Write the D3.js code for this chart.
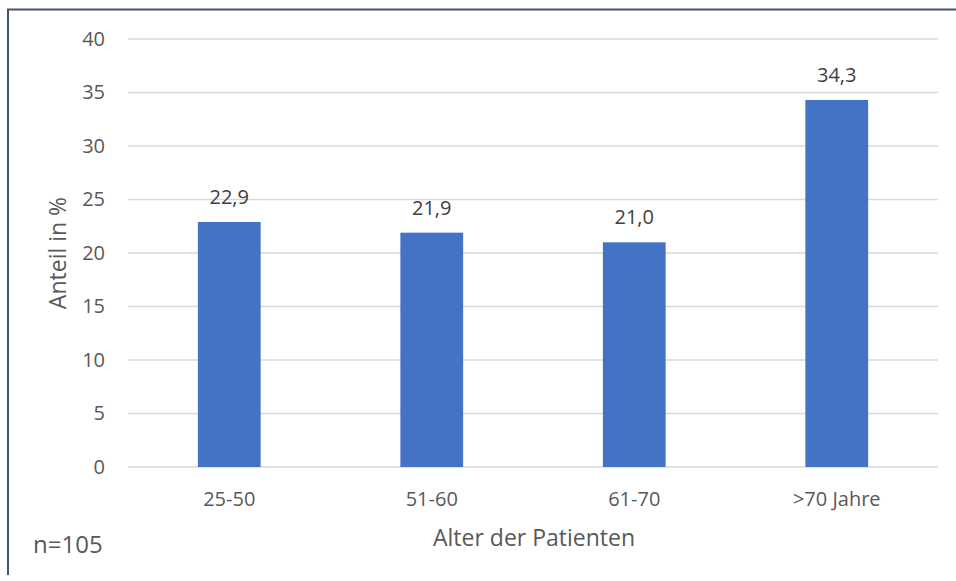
<!DOCTYPE html>
<html>
<head>
<meta charset="utf-8">
<script src="https://cdn.jsdelivr.net/npm/d3@7"></script>
<style>
  html, body { margin: 0; padding: 0; background: #fff; }
  svg { display: block; font-family: "Open Sans", "Noto Sans", sans-serif; }
</style>
</head>
<body>
<svg id="chart" width="956" height="581"></svg>
<script>
// Age groups and their share of patients (%)
const categories = ["25-50", "51-60", "61-70", ">70 Jahre"];
const values = [22.9, 21.9, 21.0, 34.3];
const yTicks = [0, 5, 10, 15, 20, 25, 30, 35, 40];

const svg = d3.select("#chart");
const plot = { left: 128, right: 938, top: 39, bottom: 467 };

// Frame (top and left edges)
svg.append("path")
  .attr("d", `M8,575 L8,9.5 L956,9.5`)
  .attr("fill", "none")
  .attr("stroke", "#44546A")
  .attr("stroke-width", 2);

const x = d3.scaleBand().domain(categories).range([plot.left, plot.right]).paddingInner(0.69).paddingOuter(0.345);
const y = d3.scaleLinear().domain([0, 40]).range([plot.bottom, plot.top]);

// Gridlines
svg.append("g").selectAll("line").data(yTicks).join("line")
  .attr("x1", plot.left).attr("x2", plot.right)
  .attr("y1", d => y(d)).attr("y2", d => y(d))
  .attr("stroke", "#D9D9D9").attr("stroke-width", 1.3);

// Y axis labels
const yAxis = d3.axisLeft(y).tickValues(yTicks).tickSize(0).tickPadding(0).tickFormat(d3.format("d"));
const gy = svg.append("g").attr("transform", `translate(105,0)`).call(yAxis)
  .attr("font-family", null).attr("font-size", null);
gy.select(".domain").remove();
gy.selectAll("text").attr("fill", "#595959").attr("font-size", 20);

// Bars
svg.append("g").selectAll("rect").data(values).join("rect")
  .attr("x", (d, i) => x(categories[i]))
  .attr("width", x.bandwidth())
  .attr("y", d => y(d))
  .attr("height", d => y(0) - y(d))
  .attr("fill", "#4472C4");

// Value labels
svg.append("g").selectAll("text").data(values).join("text")
  .attr("x", (d, i) => x(categories[i]) + x.bandwidth() / 2)
  .attr("y", d => y(d) - 18)
  .attr("text-anchor", "middle")
  .attr("fill", "#404040")
  .attr("font-size", 20)
  .text(d => d.toFixed(1).replace(".", ","));

// X axis labels
const xAxis = d3.axisBottom(x).tickSize(0).tickPadding(0);
const gx = svg.append("g").attr("transform", `translate(0,${plot.bottom + 25})`).call(xAxis)
  .attr("font-family", null).attr("font-size", null);
gx.select(".domain").remove();
gx.selectAll("text").attr("fill", "#595959").attr("font-size", 20);

// Axis titles
svg.append("text")
  .attr("transform", `translate(66,${(plot.top + plot.bottom) / 2}) rotate(-90)`)
  .attr("text-anchor", "middle")
  .attr("fill", "#595959").attr("font-size", 23)
  .text("Anteil in %");

svg.append("text")
  .attr("x", 534).attr("y", 546)
  .attr("text-anchor", "middle")
  .attr("fill", "#595959").attr("font-size", 23)
  .text("Alter der Patienten");

svg.append("text")
  .attr("x", 33).attr("y", 553)
  .attr("fill", "#595959").attr("font-size", 24)
  .text("n=105");
</script>
</body>
</html>
